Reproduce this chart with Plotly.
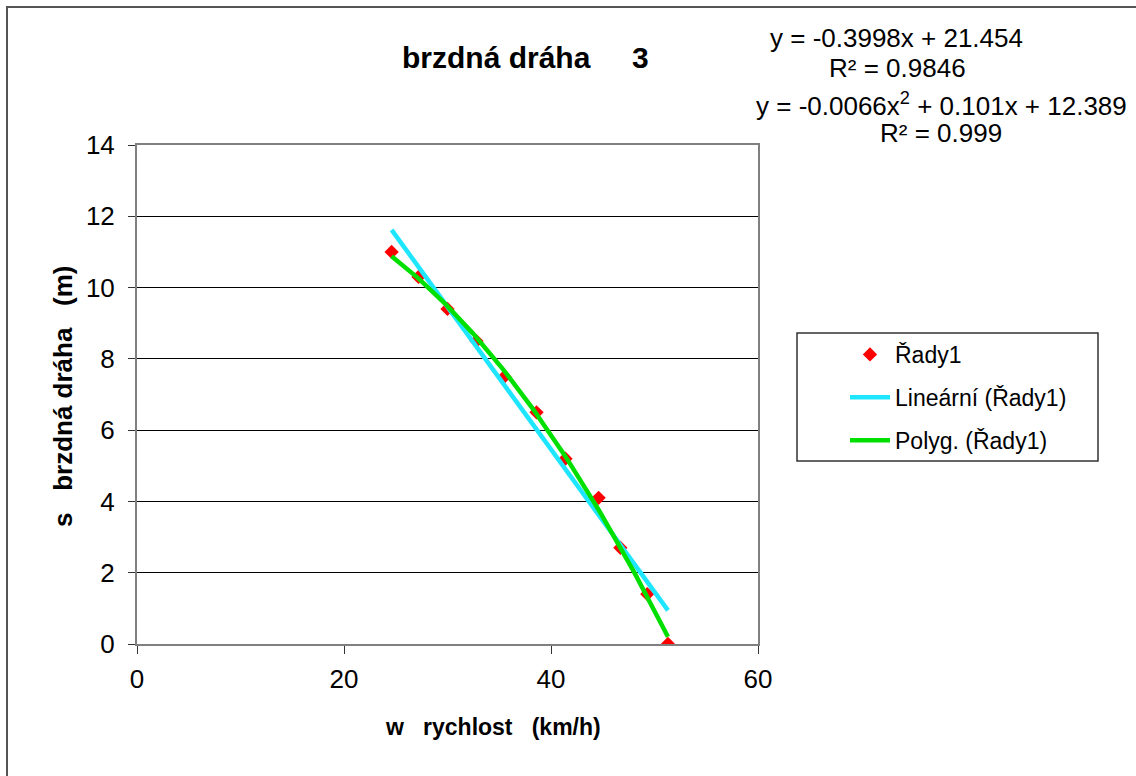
import numpy as np
import plotly.graph_objects as go

# Data
speed_kmh = [24.6, 27.2, 30.0, 32.8, 35.5, 38.6, 41.4, 44.6, 46.7, 49.3, 51.3]
braking_m = [11.0, 10.3, 9.4, 8.5, 7.5, 6.5, 5.2, 4.1, 2.7, 1.4, 0.0]

# Trendline coefficients shown on the chart
lin_slope, lin_icpt = -0.3998, 21.454
poly_a, poly_b, poly_c = -0.0066, 0.101, 12.389

x_ticks = [0, 20, 40, 60]
y_ticks = [0, 2, 4, 6, 8, 10, 12, 14]

FONT = "Liberation Sans, Arial, sans-serif"

xs_line = np.array([min(speed_kmh), max(speed_kmh)])
ys_line = lin_slope * xs_line + lin_icpt
xs_poly = np.linspace(min(speed_kmh), max(speed_kmh), 120)
ys_poly = poly_a * xs_poly ** 2 + poly_b * xs_poly + poly_c

fig = go.Figure()
fig.add_trace(go.Scatter(x=speed_kmh, y=braking_m, mode="markers", name="Řady1",
                         legendgroup="a",
                         marker=dict(symbol="diamond", size=11, color="#FF0000")))
fig.add_trace(go.Scatter(x=xs_line, y=ys_line, mode="lines", name="Lineární (Řady1)",
                         legendgroup="b",
                         line=dict(color="#1EE6FF", width=4.5)))
fig.add_trace(go.Scatter(x=xs_poly, y=ys_poly, mode="lines", name="Polyg. (Řady1)",
                         legendgroup="c",
                         line=dict(color="#00E000", width=4.5)))

L, R, T, B = 137, 758, 145, 644
W, H = 1136, 776


def px(x):
    return (x - L) / (R - L)


def py(y):
    return (B - y) / (B - T)


annotations = [
    dict(text="<b>brzdná dráha     3</b>", x=px(525), y=py(58), font=dict(size=30)),
    dict(text="y = -0.3998x + 21.454", x=px(896), y=py(38), font=dict(size=26)),
    dict(text="R² = 0.9846", x=px(897), y=py(68), font=dict(size=26)),
    dict(text="y = -0.0066x<sup>2</sup> + 0.101x + 12.389", x=px(941), y=py(104), font=dict(size=26)),
    dict(text="R² = 0.999", x=px(941), y=py(133), font=dict(size=26)),
    dict(text="<b>w   rychlost   (km/h)</b>", x=px(493), y=py(727), font=dict(size=23)),
    dict(text="<b>s   brzdná dráha   (m)</b>", x=px(63), y=py(396), font=dict(size=26), textangle=-90),
]
for a in annotations:
    a.update(xref="paper", yref="paper", showarrow=False, xanchor="center", yanchor="middle")
    a["font"].update(family=FONT, color="black")

fig.update_layout(
    width=W, height=H,
    margin=dict(l=L, r=W - R, t=T, b=H - B),
    paper_bgcolor="white", plot_bgcolor="white",
    font=dict(family=FONT, size=26, color="black"),
    showlegend=True,
    legend=dict(x=px(845), y=py(333), xanchor="left", yanchor="top",
                borderwidth=0, bgcolor="rgba(0,0,0,0)",
                font=dict(family=FONT, size=23, color="black"),
                itemwidth=40, tracegroupgap=10),
    annotations=annotations,
    shapes=[
        dict(type="rect", xref="paper", yref="paper",
             x0=px(7), x1=px(1145), y0=py(785), y1=py(7),
             line=dict(color="#555555", width=2), layer="below"),
        dict(type="rect", xref="paper", yref="paper",
             x0=px(797), x1=px(1098), y0=py(461), y1=py(333),
             line=dict(color="#333333", width=1.5), layer="below"),
    ],
)
fig.update_xaxes(range=[0, 60], tickvals=x_ticks, showgrid=False, zeroline=False,
                 showline=True, linecolor="#808080", linewidth=2, mirror=True,
                 ticks="outside", ticklen=8, tickcolor="#333333", ticklabelstandoff=3,
                 tickfont=dict(family=FONT, size=26, color="black"))
fig.update_yaxes(range=[0, 14], tickvals=y_ticks, showgrid=True, gridcolor="black",
                 gridwidth=1, zeroline=False,
                 showline=True, linecolor="#808080", linewidth=2, mirror=True,
                 ticks="outside", ticklen=7, tickcolor="#333333", ticklabelstandoff=8,
                 tickfont=dict(family=FONT, size=26, color="black"))

fig.write_html("out.html", config={"displayModeBar": False},
               post_script="document.body.style.margin='0';document.body.style.overflow='hidden';")
